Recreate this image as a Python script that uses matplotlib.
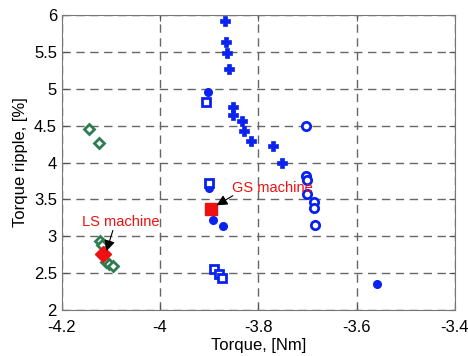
import matplotlib.pyplot as plt

plt.rcParams['font.family'] = ['Liberation Sans', 'DejaVu Sans']

# blue filled "+" markers
plus_x = [-3.867, -3.865, -3.863, -3.859, -3.852, -3.852, -3.834, -3.830, -3.814, -3.771, -3.751]
plus_y = [5.92, 5.635, 5.486, 5.27, 4.757, 4.649, 4.568, 4.432, 4.297, 4.23, 4.0]

# blue filled circles
dot_x = [-3.903, -3.901, -3.893, -3.871, -3.558]
dot_y = [4.96, 3.66, 3.22, 3.135, 2.35]

# blue open squares
sq_x = [-3.907, -3.901, -3.891, -3.881, -3.873]
sq_y = [4.82, 3.72, 2.55, 2.49, 2.43]

# blue open circles
circ_x = [-3.702, -3.702, -3.700, -3.700, -3.686, -3.686, -3.684]
circ_y = [4.5, 3.82, 3.76, 3.58, 3.47, 3.39, 3.15]

# green open diamonds
dia_x = [-4.145, -4.125, -4.123, -4.119, -4.111, -4.103, -4.095]
dia_y = [4.45, 4.26, 2.94, 2.88, 2.65, 2.62, 2.60]

# chosen machines
ls_pt = (-4.117, 2.76)
gs_pt = (-3.897, 3.37)

blue = '#0a22f0'
green = '#2e7d52'
red = '#ee1111'

fig = plt.figure(figsize=(4.68, 3.56), dpi=100)
ax = fig.add_axes([0.132, 0.129, 0.840, 0.829])

ax.plot(plus_x, plus_y, 'P', color=blue, ms=6.5, mec=blue, mew=0.5, ls='none')
ax.plot(dot_x, dot_y, 'o', color=blue, ms=5.5, ls='none')
ax.plot(sq_x, sq_y, 's', mfc='white', mec=blue, mew=2, ms=6, ls='none')
ax.plot(circ_x, circ_y, 'o', mfc='white', mec=blue, mew=2, ms=6, ls='none')
ax.plot(dia_x, dia_y, 'D', mfc='white', mec=green, mew=2, ms=5.5, ls='none')
ax.plot(*ls_pt, 'D', color=red, ms=8)
ax.plot(*gs_pt, 's', color=red, ms=9)

arrow = dict(arrowstyle='-|>', color='black', lw=0.8, mutation_scale=16,
             shrinkA=0, shrinkB=0)
ax.text(-4.159, 3.20, 'LS machine', color=red, fontsize=10.5, va='center')
ax.annotate('', xy=(-4.109, 2.80), xytext=(-4.096, 3.08), arrowprops=arrow)
ax.text(-3.853, 3.65, 'GS machine', color=red, fontsize=10.5, va='center')
ax.annotate('', xy=(-3.885, 3.42), xytext=(-3.852, 3.55), arrowprops=arrow)

ax.set_xlim(-4.2, -3.4)
ax.set_ylim(2, 6)
ax.set_xticks([-4.2, -4.0, -3.8, -3.6, -3.4])
ax.set_xticklabels(['-4.2', '-4', '-3.8', '-3.6', '-3.4'])
ax.set_yticks([2, 2.5, 3, 3.5, 4, 4.5, 5, 5.5, 6])
ax.set_yticklabels(['2', '2.5', '3', '3.5', '4', '4.5', '5', '5.5', '6'])
ax.grid(True, ls=(0, (6, 4)), color='#666666', lw=1)
ax.tick_params(direction='in', labelsize=12, top=True, right=True, length=4, color='#555555')
ax.tick_params(axis='x', pad=7)
for s in ax.spines.values():
    s.set_color('#777777')
ax.set_xlabel('Torque, [Nm]', fontsize=12, labelpad=2)
ax.set_ylabel('Torque ripple, [%]', fontsize=12, labelpad=4)

fig.savefig('out.png', dpi=100)
